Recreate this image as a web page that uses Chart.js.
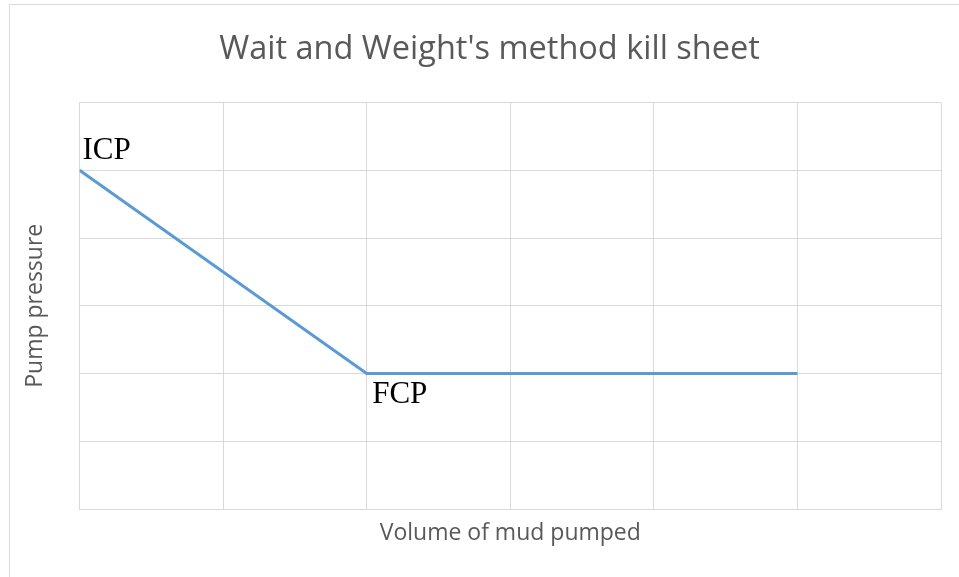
<!DOCTYPE html>
<html>
<head>
<meta charset="utf-8">
<script src="https://cdn.jsdelivr.net/npm/chart.js@4.4.1/dist/chart.umd.min.js"></script>
<style>
  html, body { margin: 0; padding: 0; background: #fff; overflow: hidden; }
  #moldura { position: absolute; left: 9px; top: 4px; width: 1000px; height: 1000px; border: 1px solid #d9d9d9; }
  #grafico { position: absolute; left: 0; top: 0; }
</style>
</head>
<body>
<div id="moldura"></div>
<canvas id="grafico" width="959" height="577"></canvas>
<script>
// volume bombeado x pressão da bomba
const volume = [0, 2, 5];
const pressao = [5, 2, 2];
const rotulos = ['ICP', 'FCP', null];
const eixoX = [0, 6];
const eixoY = [0, 6];

const cinzaGrade = '#d9d9d9';
const cinzaTexto = '#595959';

// escreve ICP / FCP ao lado dos pontos
const rotulosPontos = {
  id: 'rotulosPontos',
  afterDatasetsDraw(chart) {
    const ctx = chart.ctx;
    const meta = chart.getDatasetMeta(0);
    const desloc = [[3, -11], [5.5, 29], [0, 0]];
    ctx.save();
    ctx.font = '31px "Liberation Serif", "Times New Roman", serif';
    ctx.fillStyle = '#000';
    ctx.textAlign = 'left';
    ctx.textBaseline = 'alphabetic';
    meta.data.forEach((p, i) => {
      if (!rotulos[i]) return;
      ctx.fillText(rotulos[i], p.x + desloc[i][0], p.y + desloc[i][1]);
    });
    ctx.restore();
  }
};

const ctx = document.getElementById('grafico').getContext('2d');
new Chart(ctx, {
  type: 'line',
  data: {
    datasets: [{
      data: volume.map((v, i) => ({ x: v, y: pressao[i] })),
      borderColor: '#5b9bd5',
      borderWidth: 3,
      pointRadius: 0,
      tension: 0,
      fill: false
    }]
  },
  options: {
    responsive: false,
    animation: false,
    devicePixelRatio: 1,
    // esquerda maior para o título ficar centrado como no original
    layout: { padding: { left: 38, right: 18, top: 0, bottom: 0 } },
    plugins: {
      legend: { display: false },
      tooltip: { enabled: false },
      title: {
        display: true,
        text: "Wait and Weight's method kill sheet",
        color: cinzaTexto,
        font: { family: 'Open Sans', size: 32.5, weight: 'normal' },
        padding: { top: 30, bottom: 33.5 }
      }
    },
    scales: {
      x: {
        type: 'linear',
        min: eixoX[0],
        max: eixoX[1],
        ticks: { display: false, stepSize: 1 },
        grid: { color: cinzaGrade, drawTicks: false },
        border: { color: cinzaGrade },
        title: {
          display: true,
          text: 'Volume of mud pumped',
          color: cinzaTexto,
          font: { family: 'Open Sans', size: 23 },
          padding: { top: 10.2, bottom: 30.2 }
        }
      },
      y: {
        min: eixoY[0],
        max: eixoY[1],
        ticks: { display: false, stepSize: 1 },
        grid: { color: cinzaGrade, drawTicks: false },
        border: { color: cinzaGrade },
        title: {
          display: true,
          text: 'Pump pressure',
          color: cinzaTexto,
          font: { family: 'Open Sans', size: 23 },
          padding: { top: -16.3, bottom: 30.2 }
        }
      }
    }
  },
  plugins: [rotulosPontos]
});
</script>
</body>
</html>
